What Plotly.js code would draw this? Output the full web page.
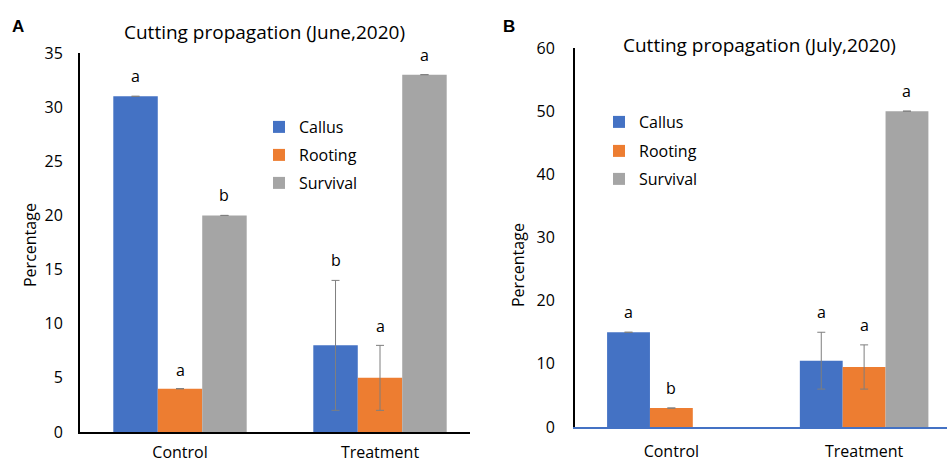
<!DOCTYPE html>
<html>
<head>
<meta charset="utf-8">
<script src="https://cdn.plot.ly/plotly-3.0.1.min.js"></script>
<style>html,body{margin:0;padding:0;background:#fff}#chart{width:947px;height:462px}</style>
</head>
<body>
<div id="chart"></div>
<script>
// ---- data ----
const categories = ["Control", "Treatment"];
const seriesNames = ["Callus", "Rooting", "Survival"];

// Panel A (June, 2020)
const juneCallus = [31, 8];
const juneRooting = [4, 5];
const juneSurvival = [20, 33];
const juneCallusErr = [0, 6];
const juneRootingErr = [0, 3];
const juneSurvivalErr = [0, 0];
const juneCallusLetters = ["a", "b"];
const juneRootingLetters = ["a", "a"];
const juneSurvivalLetters = ["b", "a"];

// Panel B (July, 2020) - no survival bar shown for Control
const julyCallus = [15, 10.5];
const julyRooting = [3, 9.5];
const julySurvival = [null, 50];
const julyCallusErr = [0, 4.5];
const julyRootingErr = [0, 3.5];
const julySurvivalErr = [0, 0];
const julyCallusLetters = ["a", "a"];
const julyRootingLetters = ["b", "a"];
const julySurvivalLetters = ["", "a"];

const colors = ["#4472C4", "#ED7D31", "#A5A5A5"];
const FONT = "Open Sans, Noto Sans, sans-serif";
const BARGAP = 0.333;

function mk(name, y, err, color, xa, ya, leg) {
  return {
    type: "bar", name: name, x: categories, y: y,
    xaxis: xa, yaxis: ya, legend: leg,
    marker: {color: color, line: {width: 0}},
    error_y: {type: "data", array: err, visible: true, color: "#7f7f7f", thickness: 1, width: 4},
    hoverinfo: "skip"
  };
}

const traces = [
  mk(seriesNames[0], juneCallus, juneCallusErr, colors[0], "x", "y", "legend"),
  mk(seriesNames[1], juneRooting, juneRootingErr, colors[1], "x", "y", "legend2"),
  mk(seriesNames[2], juneSurvival, juneSurvivalErr, colors[2], "x", "y", "legend3"),
  mk(seriesNames[0], julyCallus, julyCallusErr, colors[0], "x2", "y2", "legend4"),
  mk(seriesNames[1], julyRooting, julyRootingErr, colors[1], "x2", "y2", "legend5"),
  mk(seriesNames[2], julySurvival, julySurvivalErr, colors[2], "x2", "y2", "legend6")
];

// letter annotations placed via data coords (category index + group offset)
const annotations = [];
const w = (1 - BARGAP) / 3;
function letters(vals, errs, labs, k, xref, yref, shift) {
  vals.forEach((v, i) => {
    if (!labs[i] || v === null) return;
    annotations.push({
      xref: xref, yref: yref, x: i + (k - 1) * w, y: v + (errs[i] || 0),
      text: labs[i], showarrow: false, xanchor: "center", yanchor: "bottom", yshift: shift,
      font: {family: FONT, size: 16, color: "#000"}
    });
  });
}
letters(juneCallus, juneCallusErr, juneCallusLetters, 0, "x", "y", 7);
letters(juneRooting, juneRootingErr, juneRootingLetters, 1, "x", "y", 6);
letters(juneSurvival, juneSurvivalErr, juneSurvivalLetters, 2, "x", "y", 7);
letters(julyCallus, julyCallusErr, julyCallusLetters, 0, "x2", "y2", 7);
letters(julyRooting, julyRootingErr, julyRootingLetters, 1, "x2", "y2", 7);
letters(julySurvival, julySurvivalErr, julySurvivalLetters, 2, "x2", "y2", 7);

// titles & panel letters
function pa(x, y, text, size, extra) {
  return Object.assign({xref: "paper", yref: "paper", x: x / 947, y: 1 - y / 462, text: text, showarrow: false,
    xanchor: "center", yanchor: "middle", font: {family: FONT, size: size, color: "#000"}}, extra || {});
}
annotations.push(
  pa(264, 32, "Cutting propagation (June,2020)", 19),
  pa(759, 45, "Cutting propagation (July,2020)", 19),
  pa(17.5, 27, "<b>A</b>", 17, {font: {family: "Liberation Sans, Arial, sans-serif", size: 17, color: "#000"}}),
  pa(509, 27, "<b>B</b>", 17, {font: {family: "Liberation Sans, Arial, sans-serif", size: 17, color: "#000"}}),
  pa(30, 245, "Percentage", 16, {textangle: -90}),
  pa(518, 265, "Percentage", 16, {textangle: -90})
);

const tickFont = {family: FONT, size: 16, color: "#000"};
function leg(x, yc) {
  return {x: x / 947, y: 1 - yc / 462, xanchor: "left", yanchor: "middle", bgcolor: "rgba(0,0,0,0)",
          font: {family: FONT, size: 16, color: "#000"}, itemwidth: 30};
}
const layout = {
  width: 947, height: 462,
  margin: {l: 0, r: 0, t: 0, b: 0},
  paper_bgcolor: "#fff", plot_bgcolor: "#fff",
  barmode: "group", bargap: BARGAP, bargroupgap: 0,
  font: {family: FONT, color: "#000"},
  xaxis: {domain: [80/947, 470/947], range: [-0.5, 1.45], anchor: "y", type: "category",
          showline: true, linecolor: "#000", linewidth: 2, showgrid: false, zeroline: false,
          ticks: "outside", ticklen: 5, tickcolor: "rgba(0,0,0,0)", tickfont: tickFont, fixedrange: true},
  yaxis: {domain: [30/462, 409/462], range: [0, 35], dtick: 5, anchor: "x",
          showline: true, linecolor: "#000", linewidth: 2, showgrid: false, zeroline: false,
          ticks: "outside", ticklen: 12, tickcolor: "rgba(0,0,0,0)", tickfont: tickFont, fixedrange: true},
  xaxis2: {domain: [575/947, 1], range: [-0.5, 1.43], anchor: "y2", type: "category",
          showline: true, linecolor: "#4472C4", linewidth: 1.5, showgrid: false, zeroline: false,
          ticks: "outside", ticklen: 9, tickcolor: "rgba(0,0,0,0)", tickfont: tickFont, fixedrange: true},
  yaxis2: {domain: [35/462, 414/462], range: [0, 60], dtick: 10, anchor: "x2",
          showline: true, linecolor: "#000", linewidth: 2, showgrid: false, zeroline: false,
          ticks: "outside", ticklen: 15, tickcolor: "rgba(0,0,0,0)", tickfont: tickFont, fixedrange: true},
  legend: leg(259, 127),
  legend2: leg(259, 155),
  legend3: leg(259, 183),
  legend4: leg(599, 122),
  legend5: leg(599, 151),
  legend6: leg(599, 179),
  annotations: annotations,
  showlegend: true
};

Plotly.newPlot("chart", traces, layout, {displayModeBar: false, staticPlot: true});
</script>
</body>
</html>
